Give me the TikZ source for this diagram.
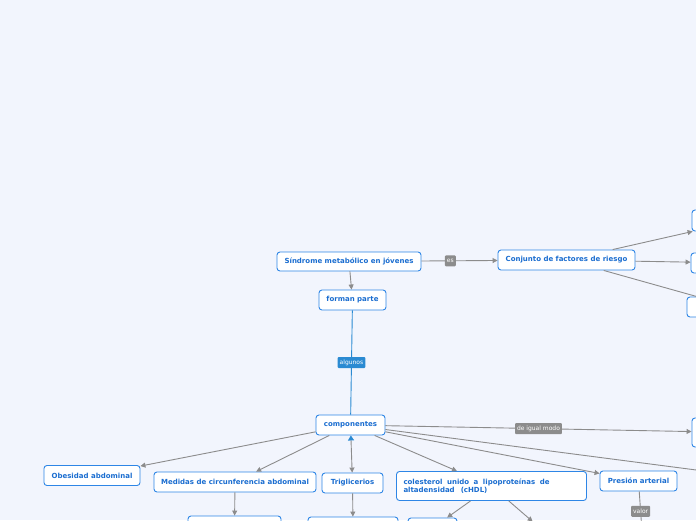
\documentclass[tikz,border=0pt]{standalone}
\usepackage{fontspec}
\setmainfont{DejaVu Sans}
\usetikzlibrary{arrows.meta}
\definecolor{Paper}{HTML}{F2F5FD}
\definecolor{Edge}{HTML}{2E86E6}
\definecolor{Ink}{HTML}{1A6DD0}
\definecolor{Wire}{HTML}{8C8C8C}
\definecolor{Stem}{HTML}{2A8AD2}

\begin{document}
\begin{tikzpicture}[x=1pt,y=-1pt,
    topic/.style={rounded corners=3pt,draw=Edge,fill=white,line width=0.9pt,
      minimum height=20pt,inner sep=0pt,text=Ink,
      font=\fontsize{7}{8.5}\selectfont\bfseries},
    tag/.style={fill=Wire,text=white,font=\fontsize{6}{7}\selectfont,
      rounded corners=1pt,inner xsep=2pt,inner ysep=0pt,minimum height=11pt},
    link/.style={draw=Wire,line width=0.9pt,-{Triangle[length=5pt,width=5pt]}},
    plain/.style={draw=Wire,line width=0.9pt}
  ]
    \useasboundingbox (0,0) rectangle (696,520);
    \fill[Paper] (0,0) rectangle (696,520);
    \clip (0,0) rectangle (696,520);

    % main branch
    \node[topic,minimum width=144pt,minimum height=19pt] (sindrome) at (349,261.5)
      {Síndrome metabólico en jóvenes};
    \node[topic,minimum width=137pt] (conjunto) at (566.5,260)
      {Conjunto de factores de riesgo};
    \node[topic,minimum width=67pt] (forman) at (352.5,300) {forman parte};
    \node[topic,minimum width=69pt] (componentes) at (350.5,425) {componentes};

    % cut off at the right edge
    \node[topic,minimum width=98pt,minimum height=21pt] (riesgoA) at (741,220.5) {};
    \node[topic,minimum width=98pt] (riesgoB) at (740,263) {};
    \node[topic,minimum width=98pt] (riesgoC) at (736,307) {};
    \node[topic,minimum width=98pt,minimum height=29pt] (igual) at (741,432.5) {};
    \coordinate (riesgoD) at (800,325.5);
    \coordinate (otro) at (800,483.5);

    % components
    \node[topic,minimum width=96pt] (obesidad) at (92,475.5) {Obesidad abdominal};
    \node[topic,minimum width=162pt] (medidas) at (235,482)
      {Medidas de circunferencia abdominal};
    \node[topic,minimum width=61pt] (triglic) at (352.5,483) {Triglicerios};
    \node[topic,minimum width=190pt,minimum height=29pt,text width=176pt,
      align=left] (cHDL) at (491.5,486)
      {\makebox[146pt][s]{colesterol\hfil unido\hfil a\hfil lipoproteínas\hfil de}\\
       altadensidad\hspace{6pt}(cHDL)};
    \node[topic,minimum width=77pt] (presion) at (638.5,481) {Presión arterial};

    % cut off at the bottom edge
    \node[topic,minimum width=93pt] (medidasB) at (234.5,526) {};
    \node[topic,minimum width=90pt] (triglicB) at (353,527) {};
    \node[topic,minimum width=49pt] (cHDLA) at (432.5,528) {};
    \node[topic,minimum width=60pt] (cHDLB) at (544.7,532) {};
    \coordinate (valorB) at (644,560);

    % connectors
    \draw[link] (sindrome) -- node[tag,pos=0.38] {es} (conjunto);
    \draw[link] (sindrome) -- (forman);
    \draw[Stem,line width=0.9pt] (forman) -- node[tag,fill=Stem,pos=0.5] {algunos}
      (componentes);
    \draw[link] (conjunto) -- (riesgoA);
    \draw[link] (conjunto) -- (riesgoB);
    \draw[plain] (conjunto) -- (riesgoD);
    \draw[link] (componentes) -- node[tag] {de igual modo} (igual);
    \draw[plain] (componentes) -- (otro);
    \draw[link] (componentes) -- (obesidad);
    \draw[link] (componentes) -- (medidas);
    \draw[link,{Triangle[length=5pt,width=6pt,color=Stem]}-{Triangle[length=5pt,width=5pt]}]
      (componentes) -- (triglic);
    \draw[link] (componentes) -- (cHDL);
    \draw[link] (componentes) -- (presion);
    \draw[link] (medidas) -- (medidasB);
    \draw[link] (triglic) -- (triglicB);
    \draw[link] (cHDL) -- (cHDLA);
    \draw[link] (cHDL) -- (cHDLB);
    \draw[plain] (presion) -- node[tag,pos=0.29] {valor} (valorB);
  \end{tikzpicture}
\end{document}
